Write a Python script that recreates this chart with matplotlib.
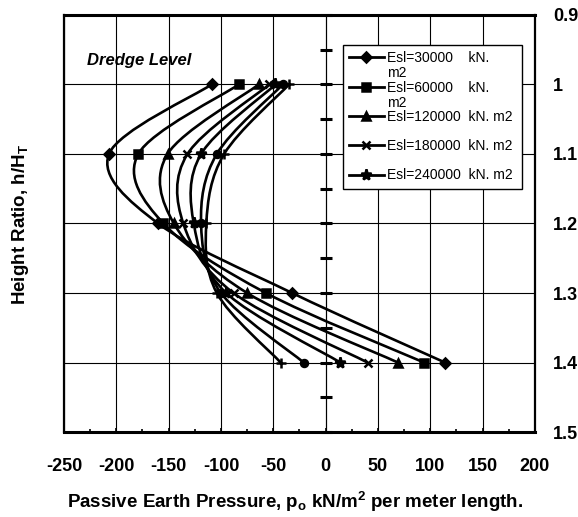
import numpy as np
import matplotlib
matplotlib.use('Agg')
import matplotlib.pyplot as plt
from matplotlib.path import Path
from matplotlib.patches import PathPatch
from matplotlib.lines import Line2D
from matplotlib.ticker import MultipleLocator

plt.rcParams['font.family'] = 'Liberation Sans'
plt.rcParams['axes.unicode_minus'] = False
plt.rcParams['mathtext.fontset'] = 'custom'
plt.rcParams['mathtext.rm'] = 'Liberation Sans:bold'
plt.rcParams['mathtext.it'] = 'Liberation Sans:bold'
plt.rcParams['mathtext.bf'] = 'Liberation Sans:bold'

# height ratio h/HT where pressures were computed
height_ratio = [1.0, 1.1, 1.2, 1.3, 1.4]

# passive earth pressure (kN/m2 per m) for each soil stiffness Esl
p_esl_30000 = [-109, -207, -160, -32, 114]
p_esl_60000 = [-83, -179, -155, -57, 94]
p_esl_120000 = [-64, -151, -145, -75, 69]
p_esl_180000 = [-54, -132, -136, -88, 40]
p_esl_240000 = [-48, -119, -126, -95, 14]
p_esl_300000 = [-41, -104, -119, -100, -21]
p_esl_360000 = [-35, -97, -114, -104, -43]

series = [p_esl_30000, p_esl_60000, p_esl_120000, p_esl_180000,
          p_esl_240000, p_esl_300000, p_esl_360000]
markers = ['D', 's', '^', 'x', '*', 'o', '+']
msizes = [5, 6, 6, 6, 8, 5, 7]
legend_labels = ['Esl=30000    kN.', 'Esl=60000    kN.',
                 'Esl=120000  kN. m2', 'Esl=180000  kN. m2',
                 'Esl=240000  kN. m2']


def smooth_path(xs, ys):
    # Catmull-Rom style smoothing, drawn as cubic Bezier segments
    pts = np.column_stack([xs, ys]).astype(float)
    ext = np.vstack([pts[0], pts, pts[-1]])
    verts = [pts[0]]
    codes = [Path.MOVETO]
    for i in range(len(pts) - 1):
        p0, p1, p2, p3 = ext[i], ext[i + 1], ext[i + 2], ext[i + 3]
        verts += [p1 + (p2 - p0) / 6, p2 - (p3 - p1) / 6, p2]
        codes += [Path.CURVE4] * 3
    return Path(verts, codes)


fig = plt.figure(figsize=(5.78, 5.17), dpi=100)
ax = fig.add_axes([0.1107, 0.1644, 0.8149, 0.8066])

for vals, m, ms in zip(series, markers, msizes):
    ax.add_patch(PathPatch(smooth_path(vals, height_ratio), facecolor='none',
                           edgecolor='black', lw=1.9, zorder=3))
    ax.plot(vals, height_ratio, ls='none', marker=m, ms=ms, color='black',
            mew=1.8, zorder=4)

ax.set_xlim(-250, 200)
ax.set_ylim(1.5, 0.9)

# gridlines
ax.xaxis.set_major_locator(MultipleLocator(50))
ax.xaxis.set_minor_locator(MultipleLocator(25))
ax.yaxis.set_major_locator(MultipleLocator(0.1))
ax.grid(True, which='major', color='black', lw=0.8)
ax.set_axisbelow(True)

ax.tick_params(axis='x', which='both', direction='in', length=3, width=1.2,
               pad=19, labelsize=13)
ax.tick_params(axis='x', which='minor', length=2)
for t in ax.get_xticklabels():
    t.set_fontweight('bold')

ax.yaxis.tick_right()
ax.tick_params(axis='y', length=0, pad=13, labelsize=13)
ax.set_yticks([0.9, 1.0, 1.1, 1.2, 1.3, 1.4, 1.5])
ax.set_yticklabels(['0.9', '1', '1.1', '1.2', '1.3', '1.4', '1.5'],
                   fontweight='bold')

for side in ['left', 'right', 'top', 'bottom']:
    ax.spines[side].set_linewidth(1.6)
ax.spines['top'].set_linewidth(2.2)
ax.spines['bottom'].set_linewidth(2.2)

# vertical zero axis with cross ticks every 0.05
zero_axis = ax.secondary_yaxis(250 / 450)
zero_axis.spines['left'].set_linewidth(2.6)
zero_axis.yaxis.set_major_locator(MultipleLocator(0.05))
zero_axis.tick_params(axis='y', direction='inout', length=8, width=2.2,
                      labelleft=False, labelright=False)

ax.text(-178, 0.965, 'Dredge Level', fontsize=12, fontweight='bold',
        fontstyle='italic', ha='center', va='center')

fig.text(0.035, 0.565, r'Height Ratio, h/H$_\mathrm{T}$', rotation=90,
         fontsize=13.5, fontweight='bold', ha='center', va='center')
fig.text(0.51, 0.03,
         r'Passive Earth Pressure, p$_\mathrm{o}$ kN/m$^\mathrm{2}$ per meter length.',
         fontsize=13.5, fontweight='bold', ha='center', va='center')

handles = [Line2D([], [], color='black', lw=2, marker=m, ms=ms, mew=1.8)
           for m, ms in zip(markers[:5], msizes[:5])]
leg = ax.legend(handles, legend_labels, loc='upper left',
                bbox_to_anchor=(0.592, 0.592, 0.38, 0.336), mode='expand',
                borderaxespad=0, fancybox=False, framealpha=1,
                edgecolor='black', fontsize=10, handlelength=2.5,
                handletextpad=0.2, labelspacing=1.1, borderpad=0.45)
leg.get_frame().set_linewidth(1.0)
leg.set_zorder(6)

# wrapped "m2" under the first two entries
fig.canvas.draw()
renderer = fig.canvas.get_renderer()
for txt in leg.get_texts()[:2]:
    bb = txt.get_window_extent(renderer)
    fig.text(bb.x0 / fig.bbox.width, (bb.y0 - 1) / fig.bbox.height, 'm2',
             fontsize=10, ha='left', va='top', zorder=7)

fig.savefig('out.png', dpi=100)
